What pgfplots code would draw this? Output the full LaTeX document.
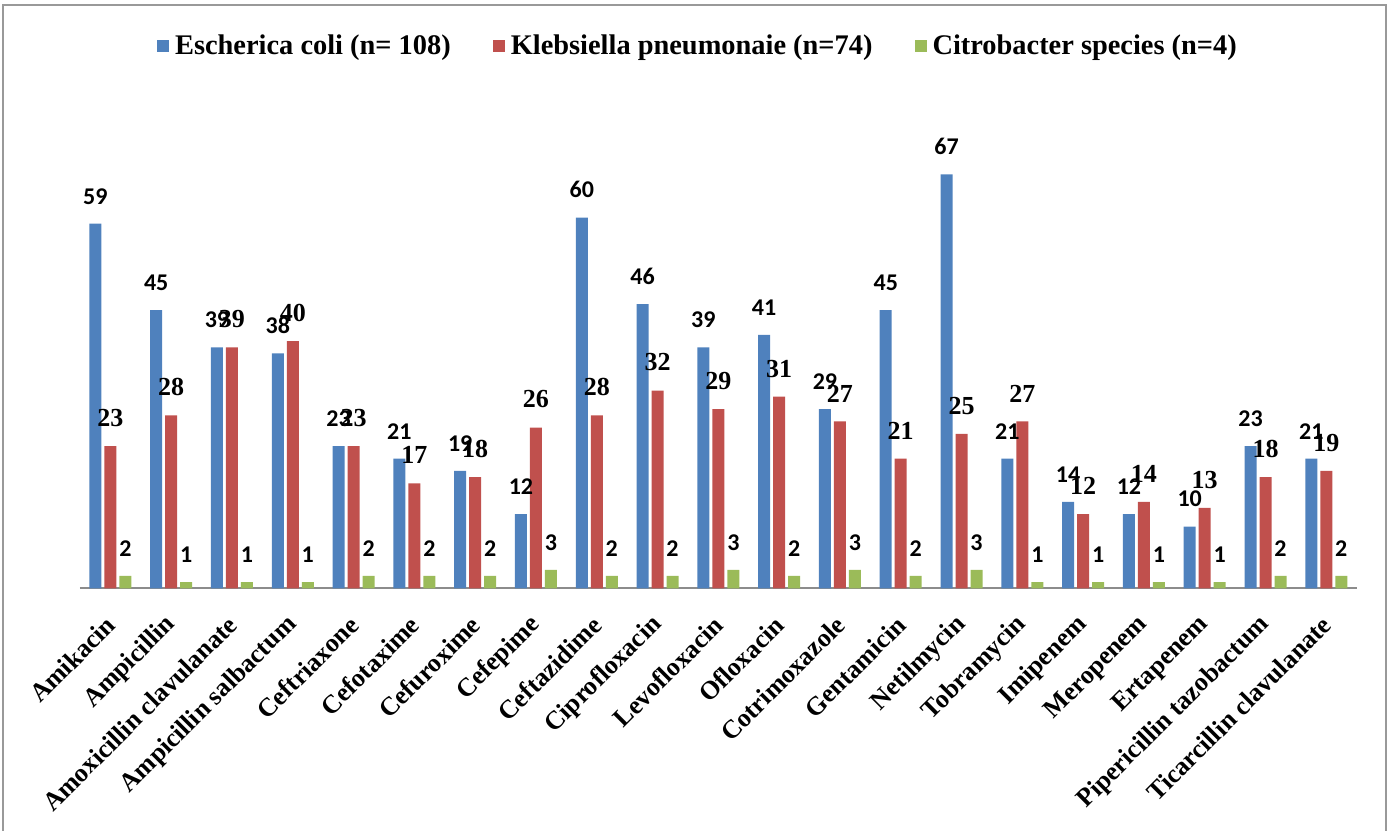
\documentclass[border=0pt]{standalone}
\usepackage{pgfplots}
\pgfplotsset{compat=1.18}
\usepackage{fontspec}
\setmainfont{Liberation Serif}
\newfontfamily\calibri{Carlito}
\definecolor{cblue}{HTML}{4F81BD}
\definecolor{cred}{HTML}{C0504D}
\definecolor{cgreen}{HTML}{9BBB59}
\begin{document}
\begin{tikzpicture}
\useasboundingbox (0,0) rectangle (695pt,-415pt);
\draw[black!40, line width=0.8pt] (1.5pt,-420pt) -- (1.5pt,-2.5pt) -- (693pt,-2.5pt) -- (693pt,-420pt);
\begin{axis}[
  at={(40pt,-294.15pt)}, anchor=south west,
  scale only axis, width=638.35pt, height=247.2pt,
  xmin=-0.5, xmax=20.5, ymin=0, ymax=80,
  axis x line=bottom, axis y line=none,
  x axis line style={draw=black!45, line width=1pt, -},
  ybar=1.5pt, bar width=6pt,
  xtick={0,...,20}, major tick length=0pt,
  xticklabels={Amikacin,Ampicillin,Amoxicillin clavulanate,Ampicillin salbactum,Ceftriaxone,Cefotaxime,Cefuroxime,Cefepime,Ceftazidime,Ciprofloxacin,Levofloxacin,Ofloxacin,Cotrimoxazole,Gentamicin,Netilmycin,Tobramycin,Imipenem,Meropenem,Ertapenem,Pipericillin tazobactum,Ticarcillin clavulanate},
  xticklabel style={xshift=1pt, yshift=-15.5pt, rotate=45, anchor=east, font=\fontsize{13}{15}\selectfont\bfseries, inner sep=1pt},
  /pgf/number format/assume math mode=true,
  nodes near coords,
  every node near coord/.append style={anchor=south, inner sep=0pt, yshift=9.5pt, text=black},
  legend columns=3,
  legend style={at={(0.4856,1.097)}, anchor=center, draw=none, fill=none,
    font=\fontsize{14.2}{17}\selectfont\bfseries,
    /tikz/every even column/.append style={column sep=18pt},
    nodes={inner xsep=3pt}},
  legend image code/.code={\fill[#1] (0pt,-3pt) rectangle (6pt,3pt);},
]
\addplot[fill=cblue, draw=none, every node near coord/.append style={font=\calibri\fontsize{12}{14}\selectfont\bfseries}] coordinates {
(0,59) (1,45) (2,39) (3,38) (4,23) (5,21) (6,19) (7,12) (8,60) (9,46) (10,39) (11,41) (12,29) (13,45) (14,67) (15,21) (16,14) (17,12) (18,10) (19,23) (20,21)};
\addplot[fill=cred, draw=none, every node near coord/.append style={font=\fontsize{13}{15}\selectfont\bfseries}] coordinates {
(0,23) (1,28) (2,39) (3,40) (4,23) (5,17) (6,18) (7,26) (8,28) (9,32) (10,29) (11,31) (12,27) (13,21) (14,25) (15,27) (16,12) (17,14) (18,13) (19,18) (20,19)};
\addplot[fill=cgreen, draw=none, every node near coord/.append style={font=\calibri\fontsize{12}{14}\selectfont\bfseries}] coordinates {
(0,2) (1,1) (2,1) (3,1) (4,2) (5,2) (6,2) (7,3) (8,2) (9,2) (10,3) (11,2) (12,3) (13,2) (14,3) (15,1) (16,1) (17,1) (18,1) (19,2) (20,2)};
\legend{Escherica coli (n= 108),Klebsiella pneumonaie (n=74),Citrobacter species (n=4)}
\end{axis}
\end{tikzpicture}
\end{document}
